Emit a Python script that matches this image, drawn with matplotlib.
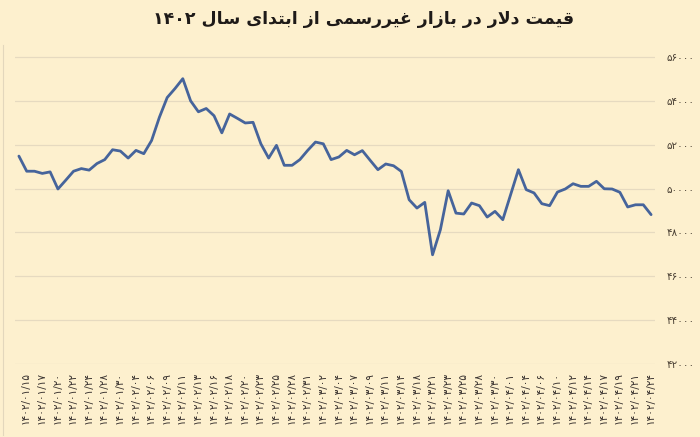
import re
import matplotlib
matplotlib.use("Agg")
import matplotlib.pyplot as plt
from matplotlib.lines import Line2D
from matplotlib.ticker import FixedLocator, FuncFormatter

# ---------------- data ----------------
title = "قیمت دلار در بازار غیررسمی از ابتدای سال ۱۴۰۲"

prices = [
    51480, 50790, 50790, 50690, 50760, 49980, 50380, 50790, 50910, 50840,
    51140, 51320, 51770, 51710, 51390, 51740, 51590, 52190, 53250, 54150,
    54560, 55010, 54000, 53500, 53650, 53320, 52540, 53400, 53200, 52990,
    53020, 52040, 51390, 51970, 51060, 51060, 51320, 51740, 52120, 52040,
    51320, 51440, 51740, 51540, 51730, 51290, 50860, 51120, 51040, 50780,
    49490, 49110, 49370, 46980, 48120, 49900, 48880, 48840, 49340, 49220,
    48700, 48960, 48580, 49720, 50860, 49950, 49800, 49310, 49220, 49840,
    49980, 50220, 50100, 50100, 50330, 49990, 49980, 49830, 49160, 49260,
    49260, 48810,
]

date_labels = [
    "۱۴۰۲/۰۱/۱۵", "۱۴۰۲/۰۱/۱۷", "۱۴۰۲/۰۱/۲۰", "۱۴۰۲/۰۱/۲۲", "۱۴۰۲/۰۱/۲۴",
    "۱۴۰۲/۰۱/۲۸", "۱۴۰۲/۰۱/۳۰", "۱۴۰۲/۰۲/۰۴", "۱۴۰۲/۰۲/۰۶", "۱۴۰۲/۰۲/۰۹",
    "۱۴۰۲/۰۲/۱۱", "۱۴۰۲/۰۲/۱۳", "۱۴۰۲/۰۲/۱۶", "۱۴۰۲/۰۲/۱۸", "۱۴۰۲/۰۲/۲۰",
    "۱۴۰۲/۰۲/۲۳", "۱۴۰۲/۰۲/۲۵", "۱۴۰۲/۰۲/۲۸", "۱۴۰۲/۰۲/۳۱", "۱۴۰۲/۰۳/۰۲",
    "۱۴۰۲/۰۳/۰۴", "۱۴۰۲/۰۳/۰۷", "۱۴۰۲/۰۳/۰۹", "۱۴۰۲/۰۳/۱۱", "۱۴۰۲/۰۳/۱۴",
    "۱۴۰۲/۰۳/۱۸", "۱۴۰۲/۰۳/۲۱", "۱۴۰۲/۰۳/۲۳", "۱۴۰۲/۰۳/۲۵", "۱۴۰۲/۰۳/۲۸",
    "۱۴۰۲/۰۳/۳۰", "۱۴۰۲/۰۴/۰۱", "۱۴۰۲/۰۴/۰۴", "۱۴۰۲/۰۴/۰۶", "۱۴۰۲/۰۴/۱۰",
    "۱۴۰۲/۰۴/۱۲", "۱۴۰۲/۰۴/۱۴", "۱۴۰۲/۰۴/۱۷", "۱۴۰۲/۰۴/۱۹", "۱۴۰۲/۰۴/۲۱",
    "۱۴۰۲/۰۴/۲۴",
]

y_ticks = [42000, 44000, 46000, 48000, 50000, 52000, 54000, 56000]

# ---------------- simple Persian shaping ----------------
FORMS = {  # iso, fin, ini, med
    "ق": ("\uFED5", "\uFED6", "\uFED7", "\uFED8"),
    "ی": ("\uFBFC", "\uFBFD", "\uFEF3", "\uFEF4"),
    "م": ("\uFEE1", "\uFEE2", "\uFEE3", "\uFEE4"),
    "ت": ("\uFE95", "\uFE96", "\uFE97", "\uFE98"),
    "ل": ("\uFEDD", "\uFEDE", "\uFEDF", "\uFEE0"),
    "ب": ("\uFE8F", "\uFE90", "\uFE91", "\uFE92"),
    "غ": ("\uFECD", "\uFECE", "\uFECF", "\uFED0"),
    "س": ("\uFEB1", "\uFEB2", "\uFEB3", "\uFEB4"),
    "د": ("\uFEA9", "\uFEAA", None, None),
    "ا": ("\uFE8D", "\uFE8E", None, None),
    "ر": ("\uFEAD", "\uFEAE", None, None),
    "ز": ("\uFEAF", "\uFEB0", None, None),
}
LAMALEF = ("\uFEFB", "\uFEFC")


def dual(c):
    return c in FORMS and FORMS[c][2] is not None


def shape(text):
    out = []
    chars = list(text)
    i = 0
    n = len(chars)
    while i < n:
        c = chars[i]
        if c not in FORMS:
            out.append(c)
            i += 1
            continue
        prev = chars[i - 1] if i > 0 else None
        join_prev = prev is not None and dual(prev)
        if c == "ل" and i + 1 < n and chars[i + 1] == "ا":
            out.append(LAMALEF[1] if join_prev else LAMALEF[0])
            i += 2
            continue
        nxt = chars[i + 1] if i + 1 < n else None
        join_next = dual(c) and nxt in FORMS
        iso, fin, ini, med = FORMS[c]
        if join_prev and join_next:
            out.append(med)
        elif join_prev:
            out.append(fin)
        elif join_next:
            out.append(ini)
        else:
            out.append(iso)
        i += 1
    vis = "".join(out)[::-1]
    vis = re.sub(r"[۰-۹0-9]+", lambda m: m.group(0)[::-1], vis)
    return vis


def to_fa_digits(s):
    return s.translate(str.maketrans("0123456789", "۰۱۲۳۴۵۶۷۸۹"))


# ---------------- figure ----------------
BG = "#FDF0CE"
fig = plt.figure(figsize=(7.0, 4.37), dpi=100, facecolor=BG)
ax = fig.add_axes([15 / 700, 1 - 364 / 437, 640 / 700, (364 - 46) / 437])
ax.set_facecolor(BG)

x = list(range(len(prices)))
ax.plot(x, prices, color="#46649B", lw=2.0, solid_joinstyle="round",
        solid_capstyle="round", zorder=3)

ax.set_xlim(-0.5, len(prices) - 0.5)
ax.set_ylim(42000, 56500)

ax.yaxis.set_major_locator(FixedLocator(y_ticks))
ax.yaxis.tick_right()
ax.yaxis.set_major_formatter(FuncFormatter(lambda v, p: to_fa_digits(f"{int(v)}")))
ax.grid(axis="y", color="#E6DAC0", lw=0.9, zorder=1)
ax.tick_params(axis="y", length=0, pad=8, labelsize=7.5, labelcolor="#4A4034")

tick_pos = [2 * i + 0.9 for i in range(len(date_labels))]
ax.set_xticks(tick_pos)
ax.set_xticklabels(date_labels, rotation=90, fontsize=7.6, color="#3A3330")
ax.tick_params(axis="x", length=0, pad=6)

for s in ax.spines.values():
    s.set_visible(False)

fig.add_artist(Line2D([3 / 700, 3 / 700], [1 - 435 / 437, 1 - 45 / 437],
                      transform=fig.transFigure, color="#E3D7BC", lw=0.8))

fig.text(364 / 700, 1 - 19 / 437, shape(title), ha="center", va="center",
         fontsize=12.5, fontweight="bold", color="#1E1A18", family="DejaVu Sans")

fig.savefig("out.png", dpi=100, facecolor=BG)
